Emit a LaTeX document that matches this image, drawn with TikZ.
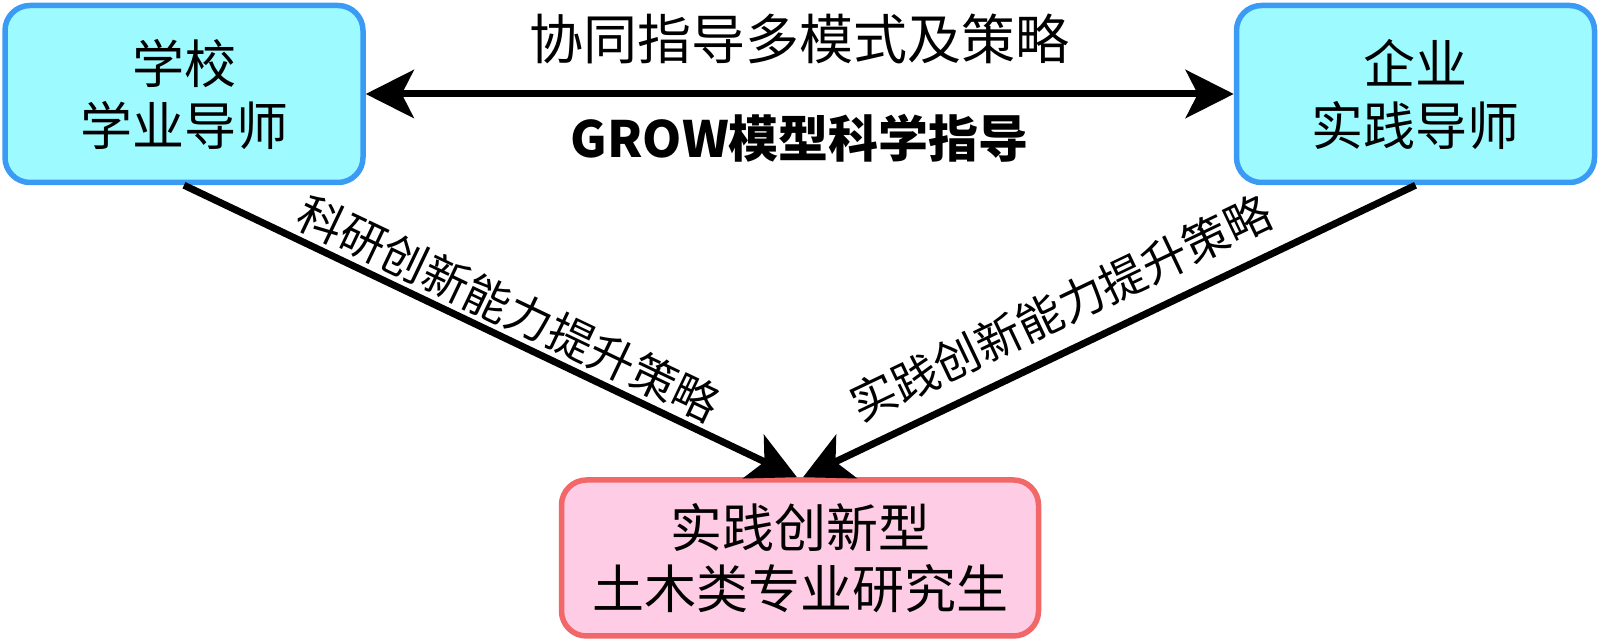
\documentclass[tikz,border=0pt]{standalone}
\usepackage{fontspec}
\setmainfont{Noto Sans CJK SC}
\usepackage{tikz}
\usetikzlibrary{arrows.meta,positioning}
\usepackage{xcolor}
\definecolor{mentorfill}{HTML}{9DFBFF}
\definecolor{mentorline}{HTML}{3B9BF4}
\definecolor{studentfill}{HTML}{FFCCE5}
\definecolor{studentline}{HTML}{F26868}

\begin{document}
\begin{tikzpicture}[
  x=1pt, y=1pt,
  node distance=868pt,
  mentor/.style={draw=mentorline, fill=mentorfill, line width=5.5pt,
    rounded corners=25pt, align=center, minimum width=358pt,
    minimum height=177pt, font=\fontsize{52}{62}\selectfont},
  student/.style={draw=studentline, fill=studentfill, line width=5.5pt,
    rounded corners=25pt, align=center, minimum width=477pt,
    minimum height=156pt, font=\fontsize{52}{61}\selectfont},
  guide/.style={font=\fontsize{46}{50}\selectfont, inner sep=4pt},
  arrow/.style={-{Stealth[length=48pt, width=48pt, inset=12pt]}, line width=7pt},
  dualarrow/.style={{Stealth[length=48pt, width=48pt, inset=12pt]}-{Stealth[length=48pt, width=48pt, inset=12pt]}, line width=7pt}
]
\useasboundingbox (0,0) rectangle (1600,642);

\node[mentor] (school) at (184,548) {学校\\学业导师};
\node[mentor, right=of school] (firm) {企业\\实践导师};
\node[student] (grad) at (800,84) {实践创新型\\土木类专业研究生};

\draw[dualarrow] (school) -- (firm)
  node[midway, yshift=55pt, font=\fontsize{54}{58}\selectfont] (modes) {协同指导多模式及策略}
  node[midway, yshift=-44pt, font=\bfseries\fontsize{50}{54}\selectfont] (grow) {GROW模型科学指导};
\draw[arrow] (school.south) -- ([xshift=-3pt]grad.north)
  node[guide, sloped, above, pos=0.51] (research) {科研创新能力提升策略};
\draw[arrow] (firm.south) -- ([xshift=3pt]grad.north)
  node[guide, sloped, above=13pt, pos=0.55] (practice) {实践创新能力提升策略};
\end{tikzpicture}
\end{document}
